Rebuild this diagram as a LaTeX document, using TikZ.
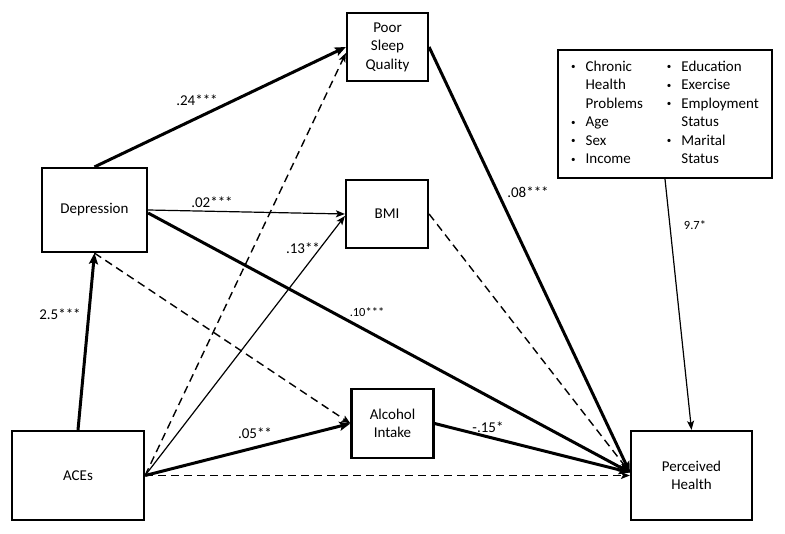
\documentclass[tikz,border=0pt]{standalone}
\usepackage{fontspec}
\setmainfont{Carlito}
\usetikzlibrary{positioning}
\usetikzlibrary{calc,arrows.meta}

\newcommand{\covbullet}{\raisebox{1.5pt}{\scalebox{0.6}{\textbullet}}}

\tikzset{
	varbox/.style={draw, line width=2.2pt, align=center, inner sep=0pt,
		font=\fontsize{15}{18.5}\selectfont},
	strongpath/.style={line width=3pt, -{Stealth[length=11pt,width=9pt,inset=2pt]}},
	weakpath/.style={line width=1.2pt, -{Stealth[length=9pt,width=7pt,inset=2pt]}},
	nullpath/.style={line width=1.4pt, dash pattern=on 8pt off 5pt,
		-{Stealth[length=9pt,width=7pt,inset=2pt]}},
	coef/.style={inner sep=0pt, font=\fontsize{15}{18}\selectfont},
	smallcoef/.style={inner sep=0pt, font=\fontsize{12.5}{15}\selectfont},
}

\begin{document}
\begin{tikzpicture}[x=1pt, y=-1pt]
	
	\useasboundingbox (0,0) rectangle (785,534);
	
	% Variables (placed at the centre of each box)
	\node[varbox, minimum width=81pt, minimum height=68pt] (PSQ) at (387.5,47) {Poor\\Sleep\\Quality};
	\node[varbox, minimum width=105pt, minimum height=84pt] (Dep) at (94.5,210) {Depression};
	\node[varbox, minimum width=82pt, minimum height=68pt] (BMI) at (387,214) {BMI};
	\node[varbox, minimum width=82pt, minimum height=69pt] (Alc) at (392.5,423.5) {Alcohol\\Intake};
	\node[varbox, minimum width=132pt, minimum height=89pt] (ACEs) at (78,475.5) {ACEs};
	\node[varbox, minimum width=121pt, minimum height=89pt] (PH) at (691.5,475.5) {Perceived\\Health};
	
	% Covariates
	\node[varbox, minimum width=214pt, minimum height=128pt] (Cov) at (665,114) {%
		\begin{tabular}{@{}c@{\hspace{10pt}}l@{\hspace{24pt}}c@{\hspace{10pt}}l@{}}
			\covbullet & Chronic  & \covbullet & Education\\
			           & Health   & \covbullet & Exercise\\
			           & Problems & \covbullet & Employment\\
			\covbullet & Age      &            & Status\\
			\covbullet & Sex      & \covbullet & Marital\\
			\covbullet & Income   &            & Status
		\end{tabular}};
	
	% Common end point on Perceived Health
	\coordinate (PHin) at ([yshift=3pt]PH.west);
	
	% Paths
	\draw[strongpath] (ACEs.north) -- (Dep.south);
	\draw[strongpath] (Dep.north) -- (PSQ.west);
	\draw[weakpath] (Dep.east) -- (BMI.west);
	\draw[strongpath] ([yshift=-3pt]Dep.east) -- (PHin);
	\draw[nullpath] (Dep.south) -- (Alc.west);
	
	\draw[nullpath] (ACEs.east) -- ([yshift=-6pt]PSQ.west);
	\draw[weakpath] (ACEs.east) -- ([yshift=-2pt]BMI.west);
	\draw[strongpath] (ACEs.east) -- (Alc.west);
	\draw[nullpath] (ACEs.east) -- (PH.west);
	
	\draw[strongpath] (PSQ.east) -- (PHin);
	\draw[nullpath] (BMI.east) -- (PHin);
	\draw[strongpath] (Alc.east) -- (PHin);
	\draw[weakpath] (Cov.south) -- (PH.north);
	
	% Coefficients
	\node[coef] (C1) at (197,100) {.24***};
	\node[coef] (C2) at (212,202) {.02***};
	\node[coef] (C3) at (303,248) {.13**};
	\node[coef] (C4) at (60,314) {2.5***};
	\node[smallcoef] (C5) at (367,312) {.10***};
	\node[coef] (C6) at (255,433) {.05**};
	\node[coef] (C7) at (488,427) {-.15*};
	\node[coef] (C8) at (528,192) {.08***};
	\node[smallcoef] (C9) at (695,225) {9.7*};
	
\end{tikzpicture}
\end{document}
